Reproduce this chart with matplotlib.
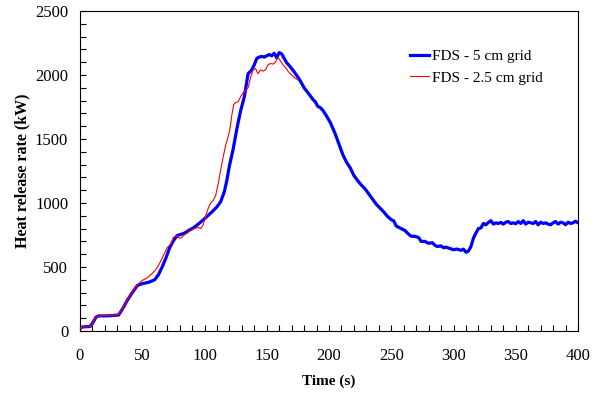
import matplotlib
matplotlib.use("Agg")
import matplotlib.pyplot as plt
from matplotlib.ticker import MultipleLocator

# Data
t_5cm = [0, 2, 8, 10, 13, 15, 20, 25, 31, 34, 38, 42, 46, 50, 55, 60, 63, 66, 69, 72,
         75, 78, 81, 84, 88, 91, 95, 98, 102, 106, 110, 113, 116, 118, 120, 123, 126,
         129, 132, 135, 138, 140, 142, 144, 146, 148, 150, 152, 154, 156, 158, 160,
         162, 164, 166, 168, 170, 172, 176, 180, 184, 187, 189, 191, 193, 195, 198,
         201, 205, 208, 211, 214, 217, 220, 223, 226, 229, 232, 235, 238, 241, 244,
         247, 250, 252, 254, 256, 258, 261, 263, 266, 269, 272, 274, 277, 280, 283,
         285, 287, 290, 292, 294, 297, 300, 303, 306, 308, 310, 312, 314, 316, 318,
         320, 322, 324, 326, 328, 330, 332, 334, 336, 338, 340, 342, 344, 346, 348,
         350, 352, 354, 356, 358, 360, 362, 364, 366, 368, 370, 372, 374, 376, 378,
         380, 382, 384, 386, 388, 390, 392, 394, 396, 398, 400]
hrr_5cm = [20, 32, 35, 60, 110, 118, 118, 120, 125, 170, 240, 300, 355, 370, 380, 400,
           440, 500, 570, 650, 705, 745, 755, 765, 790, 805, 835, 860, 895, 930, 970,
           1010, 1090, 1180, 1290, 1420, 1580, 1720, 1830, 2010, 2040, 2080, 2130, 2140,
           2145, 2140, 2150, 2160, 2150, 2170, 2135, 2175, 2165, 2130, 2095, 2075, 2050,
           2025, 1970, 1900, 1850, 1810, 1790, 1755, 1745, 1725, 1680, 1630, 1540, 1460,
           1380, 1320, 1275, 1215, 1175, 1140, 1110, 1070, 1030, 990, 960, 930, 895,
           870, 860, 820, 810, 800, 785, 765, 740, 740, 730, 700, 700, 685, 690, 670,
           660, 665, 650, 655, 645, 635, 640, 630, 640, 615, 625, 660, 725, 765, 800,
           805, 840, 830, 848, 862, 835, 845, 840, 848, 835, 850, 855, 840, 845, 838,
           855, 840, 862, 835, 850, 845, 840, 855, 830, 850, 840, 845, 835, 830, 845,
           855, 835, 850, 845, 830, 850, 840, 845, 858, 845]

t_25cm = [0, 2, 8, 10, 13, 15, 20, 25, 31, 34, 38, 42, 46, 50, 54, 58, 61, 64, 67, 70,
          73, 75, 77, 79, 81, 83, 86, 89, 92, 95, 97, 99, 101, 103, 105, 107, 109, 111,
          113, 115, 117, 119, 120.5, 122, 123.5, 125, 127, 129, 131, 133, 135, 137, 139,
          141, 143, 145, 147, 149, 151, 153, 155, 157, 159, 161, 163, 165, 167, 169,
          171, 173, 175]
hrr_25cm = [20, 32, 35, 60, 110, 118, 120, 122, 128, 175, 245, 305, 360, 395, 415, 450,
            480, 530, 590, 650, 680, 730, 745, 730, 725, 745, 765, 785, 800, 810, 800,
            830, 900, 960, 1000, 1020, 1060, 1150, 1260, 1360, 1450, 1520, 1580, 1690,
            1770, 1785, 1790, 1830, 1860, 1880, 1900, 1980, 2040, 2050, 2010, 2040, 2030,
            2040, 2080, 2090, 2085, 2100, 2140, 2110, 2080, 2060, 2030, 2010, 1990, 1975,
            1960]

label_5cm = "FDS - 5 cm grid"
label_25cm = "FDS - 2.5 cm grid"

plt.rcParams['font.family'] = ['Liberation Serif', 'DejaVu Serif']

fig = plt.figure(figsize=(6.0, 3.93), dpi=100)
ax = fig.add_axes([80/600, 1 - 331/393, 498/600, 320/393])

ax.plot(t_5cm, hrr_5cm, color='#0000ff', lw=2.3, label=label_5cm, zorder=2)
ax.plot(t_25cm, hrr_25cm, color='#ff0000', lw=0.8, label=label_25cm, zorder=3)

ax.set_xlim(0, 400)
ax.set_ylim(0, 2500)
ax.xaxis.set_major_locator(MultipleLocator(50))
ax.xaxis.set_minor_locator(MultipleLocator(10))
ax.yaxis.set_major_locator(MultipleLocator(500))
ax.yaxis.set_minor_locator(MultipleLocator(100))
ax.tick_params(which='both', direction='in', length=4, width=0.8, labelsize=12,
               top=False, right=False)
ax.tick_params(axis='x', pad=12.5)
ax.tick_params(axis='y', pad=8.5)
for s in ax.spines.values():
    s.set_linewidth(0.8)

ax.set_xlabel("Time (s)", fontsize=11, fontweight='bold', labelpad=7.5)
ax.set_ylabel("Heat release rate (kW)", fontsize=11.5, fontweight='bold', labelpad=3.5)

ax.legend(loc='upper left', bbox_to_anchor=(0.662, 0.88), frameon=False,
          fontsize=11, handlelength=1.25, handletextpad=0.2, borderpad=0,
          borderaxespad=0, labelspacing=0.52)

fig.savefig("out.png", dpi=100)
